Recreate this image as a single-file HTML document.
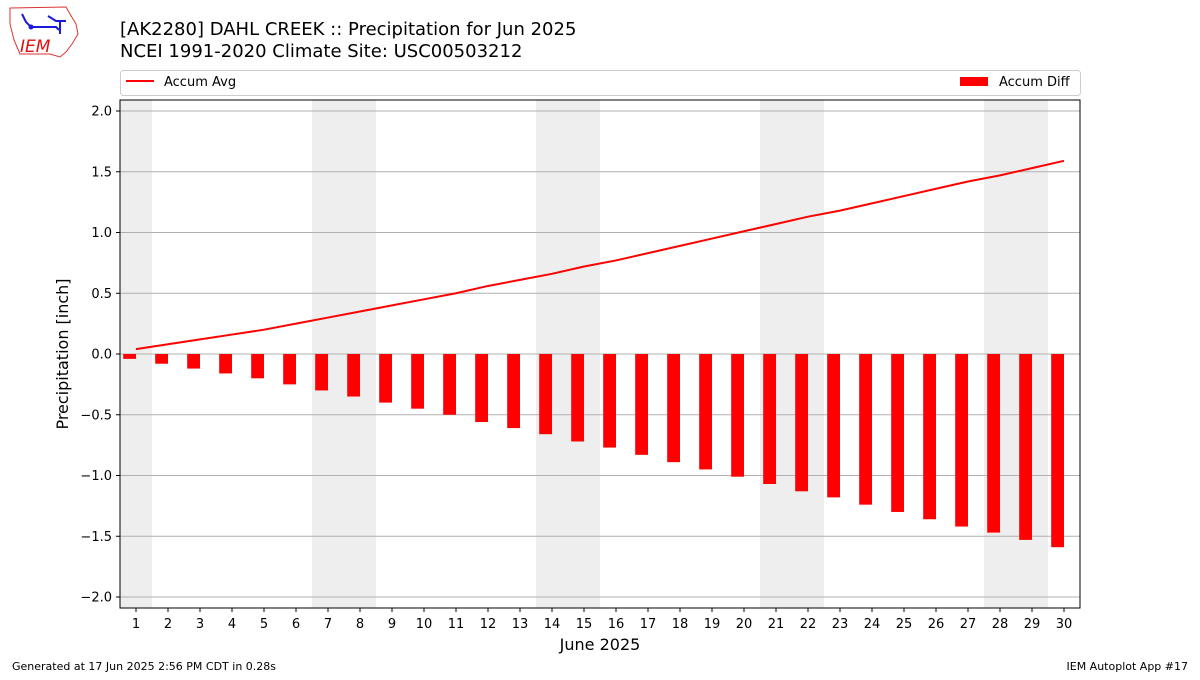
<!DOCTYPE html>
<html><head><meta charset="utf-8"><style>
body{margin:0;background:#fff;font-family:"Liberation Sans","DejaVu Sans",sans-serif}
svg text{font-family:"DejaVu Sans","Liberation Sans",sans-serif}
</style></head><body>
<svg id="chart" width="1200" height="675" xmlns="http://www.w3.org/2000/svg">
<g>
<path d="M10,8 L66,7 L70,14 L76,24 L78,34 L72,44 L66,52 L60,57 L50,54 L20,54 L14,40 L10,24 Z" fill="none" stroke="#d33" stroke-width="1"/>
<path d="M22,14 L26,22 L31,27 L56,27 L59,30 M48,16 L56,21 L66,21 M60,21 L60,34" stroke="#1a1adc" stroke-width="2" fill="none"/>
<circle cx="31" cy="27" r="2.5" fill="#1a1adc"/>
<text x="20" y="52" fill="#d11" font-size="17" font-style="italic" font-family="Liberation Serif,serif">IEM</text>
</g>
<text x="120" y="35" font-size="18">[AK2280] DAHL CREEK :: Precipitation for Jun 2025</text>
<text x="120" y="57" font-size="18">NCEI 1991-2020 Climate Site: USC00503212</text>
<g>
<rect x="120.5" y="70.5" width="960" height="25" rx="3" fill="#fff" stroke="#ccc"/>
<line x1="126" y1="81" x2="154" y2="81" stroke="red" stroke-width="2"/>
<text x="164" y="86" font-size="13">Accum Avg</text>
<rect x="960" y="77" width="28" height="9" fill="red"/>
<text x="999" y="86" font-size="13">Accum Diff</text>
</g>
<g id="plot"></g>
<text x="12" y="670" font-size="11">Generated at 17 Jun 2025 2:56 PM CDT in 0.28s</text>
<text x="1188" y="670" font-size="11" text-anchor="end">IEM Autoplot App #17</text>
</svg>
<script>
const days=[1,2,3,4,5,6,7,8,9,10,11,12,13,14,15,16,17,18,19,20,21,22,23,24,25,26,27,28,29,30];
const accumAvg=[0.04,0.08,0.12,0.16,0.20,0.25,0.30,0.35,0.40,0.45,0.50,0.56,0.61,0.66,0.72,0.77,0.83,0.89,0.95,1.01,1.07,1.13,1.18,1.24,1.30,1.36,1.42,1.47,1.53,1.59];
const accumDiff=[-0.04,-0.08,-0.12,-0.16,-0.20,-0.25,-0.30,-0.35,-0.40,-0.45,-0.50,-0.56,-0.61,-0.66,-0.72,-0.77,-0.83,-0.89,-0.95,-1.01,-1.07,-1.13,-1.18,-1.24,-1.30,-1.36,-1.42,-1.47,-1.53,-1.59];
const weekendDays=[1,7,8,14,15,21,22,28,29];
const yTicks=[2.0,1.5,1.0,0.5,0.0,-0.5,-1.0,-1.5,-2.0];
const L=120,R=1080,T=100,B=608;
const xS=d=>136+(d-1)*32;
const yS=v=>354-v*121.5;
const NS="http://www.w3.org/2000/svg";
const g=document.getElementById('plot');
function mk(t,a,p){const e=document.createElementNS(NS,t);for(const k in a)e.setAttribute(k,a[k]);(p||g).appendChild(e);return e;}
weekendDays.forEach(d=>{
 const x0=Math.max(L,xS(d-0.5));
 const e=mk('rect',{x:x0,y:T,width:xS(d+0.5)-x0,height:B-T,fill:'#eee'});
 
 
});
yTicks.forEach(v=>{
 const y=yS(v);
 const l=mk('line',{x1:L,x2:R,y1:y,y2:y,stroke:'#b0b0b0','stroke-width':1});
 
 
 mk('line',{x1:L-4,x2:L,y1:y,y2:y,stroke:'#000'});
 const t=mk('text',{x:L-8,y:y+4.5,'font-size':13,'text-anchor':'end'});
 t.textContent=v.toFixed(1).replace('-','\u2212');
 
 
});
days.forEach((d,i)=>{
 const v=accumDiff[i];
 const y0=yS(Math.max(0,v)),y1=yS(Math.min(0,v));
 const b=mk('rect',{x:xS(d)-12.8,y:y0,width:12.8,height:y1-y0,fill:'red'});
 
 
 mk('line',{x1:xS(d),x2:xS(d),y1:B,y2:B+4,stroke:'#000'});
 const t=mk('text',{x:xS(d),y:B+20,'font-size':13,'text-anchor':'middle'});
 t.textContent=d;
 
 
});
const pl=mk('polyline',{points:days.map((d,i)=>xS(d)+','+yS(accumAvg[i])).join(' '),fill:'none',stroke:'red','stroke-width':2});


const fr=mk('rect',{x:L,y:T,width:R-L,height:B-T,fill:'none',stroke:'#000','stroke-width':1});


const xt=mk('text',{x:600,y:650,'font-size':16,'text-anchor':'middle'});
xt.textContent='June 2025';


const yt=mk('text',{x:0,y:0,'font-size':16,'text-anchor':'middle',transform:'translate(68,354) rotate(-90)'});
yt.textContent='Precipitation [inch]';


</script>
</body></html>
